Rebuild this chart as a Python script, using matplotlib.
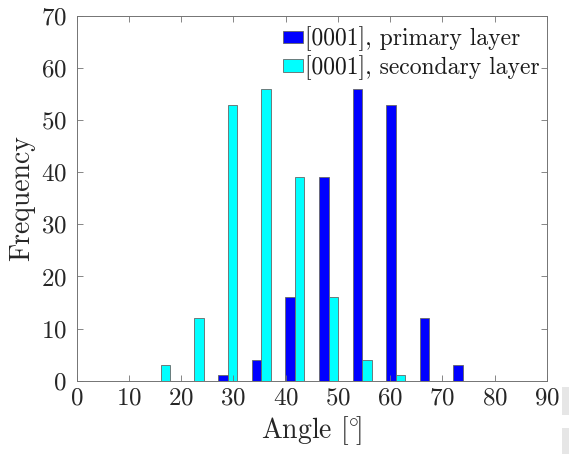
import numpy as np
import matplotlib
matplotlib.use('Agg')
from matplotlib import pyplot as plt
from matplotlib.patches import Rectangle

plt.rcParams['font.family'] = 'serif'
plt.rcParams['font.serif'] = ['cmr10']
plt.rcParams['mathtext.fontset'] = 'cm'
plt.rcParams['axes.unicode_minus'] = False
plt.rcParams['axes.formatter.use_mathtext'] = True

# histogram bin centres (deg) and counts for each layer
angles = [16.07, 22.50, 28.93, 35.36, 41.79, 48.21, 54.64, 61.07, 67.50, 73.93]
primary = [0, 0, 1, 4, 16, 39, 56, 53, 12, 3]
secondary = [3, 12, 53, 56, 39, 16, 4, 1, 0, 0]
labels = ['[0001], primary layer', '[0001], secondary layer']

bar_w = 1.82
axis_col = '0.45'

fig = plt.figure(figsize=(5.69, 4.54), dpi=100)
ax = fig.add_axes([0.1348, 0.1615, 0.8262, 0.8033])

x = np.array(angles)
ax.bar(x - bar_w / 2, primary, width=bar_w, color='#0000ff',
       edgecolor='0.4', linewidth=0.6, label=labels[0])
ax.bar(x + bar_w / 2, secondary, width=bar_w, color='#00ffff',
       edgecolor='0.4', linewidth=0.6, label=labels[1])

ax.set_xlim(0, 90)
ax.set_ylim(0, 70)
ax.set_xticks(np.arange(0, 91, 10))
ax.set_yticks(np.arange(0, 71, 10))
ax.tick_params(direction='in', top=True, right=True, length=4, width=0.6,
               color=axis_col, labelsize=18, labelcolor='0.15')
ax.tick_params(axis='y', pad=7)
ax.tick_params(axis='x', pad=5)
for s in ax.spines.values():
    s.set_color(axis_col)
    s.set_linewidth(0.7)

ax.set_xlabel(r'Angle [$\!^\circ\!\!$]', fontsize=20, color='0.15', labelpad=3)
ax.set_ylabel('Frequency', fontsize=20, color='0.15', labelpad=4)

leg = ax.legend(loc='upper right', bbox_to_anchor=(1.008, 1.0), frameon=False,
                fontsize=17, handlelength=0.85, handleheight=0.45,
                handletextpad=0.1, labelspacing=0.15, borderaxespad=0.3,
                borderpad=0.15)
for t in leg.get_texts():
    t.set_color('0.1')

# light grey strips along the right edge
for y0, h in [(0.086, 0.062), (0.0, 0.057)]:
    fig.patches.append(Rectangle((0.987, y0), 0.013, h, transform=fig.transFigure,
                                 facecolor='0.9', edgecolor='none'))

fig.savefig('out.png', dpi=100)
